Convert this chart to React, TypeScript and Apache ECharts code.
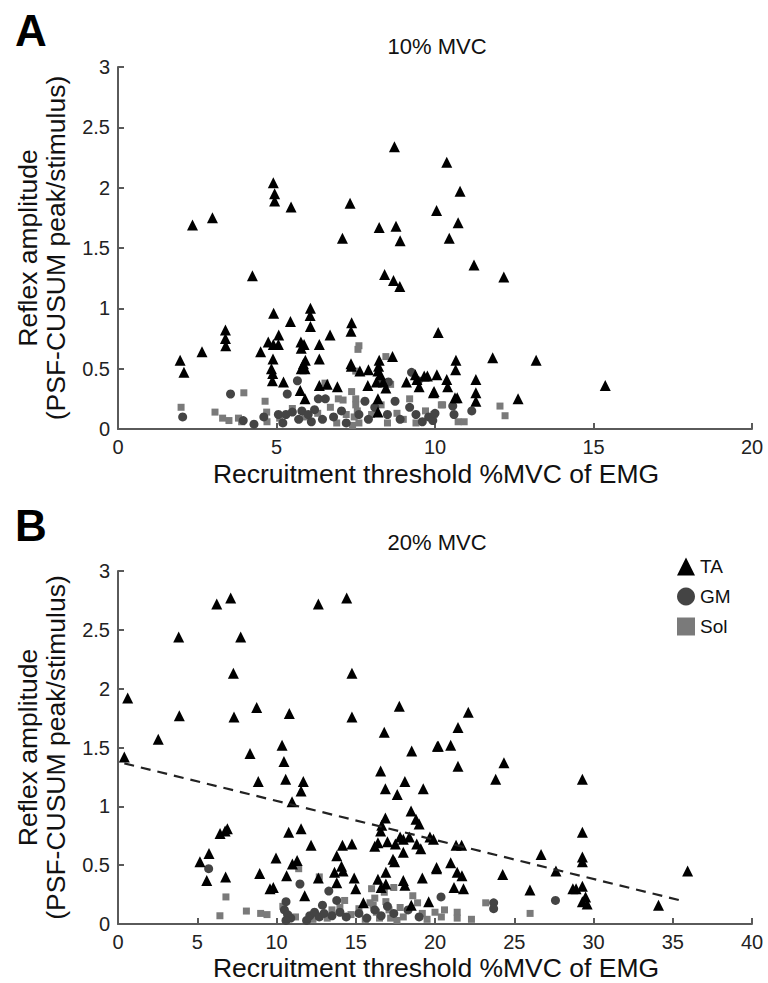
import React, { useEffect, useRef } from "react";
import * as echarts from "echarts";

// ---- Panel A (10% MVC) ----
const taA: number[][] = [
  [1.96,0.57],[2.08,0.47],[2.35,1.69],[2.65,0.64],[2.98,1.75],[3.39,0.82],[3.39,0.75],[3.4,0.69],
  [4.24,1.27],[4.5,0.64],[4.9,2.04],[4.94,1.95],[4.94,1.89],[5.46,1.84],[4.91,0.96],[4.74,0.72],
  [4.9,0.70],[5.06,0.70],[5.07,0.78],[4.89,0.58],[4.84,0.50],[4.88,0.46],[4.87,0.40],[5.22,0.39],
  [5.44,0.89],[6.07,1.00],[6.06,0.94],[6.07,0.85],[5.77,0.72],[5.87,0.70],[5.78,0.67],[5.91,0.57],
  [5.85,0.54],[5.78,0.50],[6.35,0.70],[6.35,0.58],[6.69,0.78],[5.75,0.32],[5.9,0.25],[6.35,0.36],
  [6.6,0.37],[6.92,0.35],[7.08,1.58],[7.32,1.87],[7.37,0.88],[7.35,0.81],[7.35,0.54],[7.36,0.52],
  [7.63,0.48],[7.9,0.49],[8.24,1.67],[8.77,1.68],[8.9,1.56],[8.72,2.34],[8.41,1.28],[8.69,1.23],
  [8.89,1.18],[8.24,0.57],[8.66,0.60],[8.22,0.52],[8.2,0.48],[8.28,0.45],[8.15,0.39],[8.37,0.39],
  [8.45,0.34],[7.88,0.36],[8.2,0.25],[8.2,0.14],[9.1,0.39],[9.38,0.45],[9.5,0.35],[9.66,0.44],
  [9.95,0.30],[10.06,0.45],[10.05,1.81],[10.1,0.80],[10.37,2.21],[10.79,1.97],[10.73,1.71],
  [10.45,1.58],[11.23,1.36],[12.17,1.26],[10.66,0.57],[10.65,0.49],[11.82,0.59],[13.19,0.57],
  [10.37,0.41],[10.4,0.35],[10.7,0.26],[11.29,0.41],[11.29,0.30],[11.29,0.23],[12.62,0.25],
  [15.37,0.36],[9.43,0.41],[9.76,0.44],[10.63,0.26],[9.97,0.31],[5.9,0.5]
];
const gmA: number[][] = [
  [2.04,0.10],[3.55,0.29],[3.95,0.07],[4.29,0.04],[5.66,0.40],[5.34,0.29],[5.06,0.12],[5.3,0.12],
  [5.5,0.14],[5.8,0.15],[6.0,0.12],[6.2,0.16],[6.32,0.25],[6.54,0.25],[6.8,0.10],[6.45,0.08],
  [6.1,0.06],[5.7,0.08],[7.79,0.23],[7.6,0.12],[7.9,0.08],[8.32,0.39],[8.53,0.39],[8.74,0.23],
  [8.5,0.12],[8.9,0.08],[9.26,0.47],[9.47,0.40],[9.2,0.18],[9.4,0.12],[9.8,0.10],[9.6,0.06],
  [10.56,0.19],[10.6,0.12],[11.16,0.15],[9.93,0.07],[10.0,0.13],[4.6,0.10],[5.2,0.05],[7.2,0.05],
  [7.05,0.15],[8.1,0.18]
];
const solA: number[][] = [
  [1.99,0.18],[3.06,0.14],[3.3,0.09],[3.5,0.07],[3.8,0.09],[3.9,0.06],[3.97,0.30],[4.64,0.23],
  [4.69,0.14],[4.7,0.06],[5.1,0.09],[5.5,0.17],[5.9,0.10],[6.53,0.38],[6.95,0.25],[7.37,0.31],
  [7.5,0.25],[7.5,0.20],[7.55,0.15],[7.45,0.10],[7.6,0.05],[7.4,0.03],[7.6,0.69],[7.57,0.66],
  [8.45,0.60],[7.5,0.48],[7.1,0.24],[7.2,0.12],[6.7,0.18],[6.3,0.13],[6.9,0.05],[8.6,0.37],
  [8.8,0.13],[8.5,0.05],[9.2,0.25],[9.0,0.08],[9.4,0.05],[9.7,0.15],[10.24,0.20],[9.97,0.12],
  [10.73,0.06],[10.92,0.06],[12.05,0.19],[12.21,0.11],[10.2,0.2],[8.0,0.12],[8.3,0.2]
];

// ---- Panel B (20% MVC) ----
const taB: number[][] = [
  [0.61,1.92],[0.4,1.42],[2.54,1.57],[3.83,2.44],[3.87,1.77],[6.23,2.72],[7.11,2.77],[7.28,2.13],
  [7.74,2.44],[7.32,1.76],[8.75,1.84],[8.33,1.45],[8.85,1.21],[10.81,1.79],[10.35,1.52],[10.47,1.38],
  [10.58,1.23],[11.69,1.21],[11.55,1.13],[10.98,1.04],[12.64,2.72],[14.43,2.77],[14.76,2.13],
  [14.76,1.76],[6.44,0.77],[6.76,0.79],[6.9,0.81],[5.17,0.53],[5.74,0.60],[5.6,0.37],[6.79,0.40],
  [8.94,0.43],[9.59,0.30],[9.8,0.31],[9.97,0.56],[10.77,0.78],[11.55,0.81],[11.0,0.51],[11.3,0.54],
  [10.64,0.41],[11.78,0.24],[12.18,0.67],[12.64,0.39],[13.8,0.58],[14.16,0.67],[14.76,0.68],
  [14.1,0.49],[14.2,0.45],[13.66,0.44],[13.8,0.35],[14.9,0.39],[15.0,0.30],[15.48,0.18],[16.57,1.30],
  [16.8,1.63],[16.87,1.15],[17.75,1.85],[18.1,1.21],[17.62,1.10],[18.53,1.47],[19.26,1.15],
  [20.15,1.51],[16.87,0.90],[16.64,0.84],[16.57,0.79],[18.49,0.96],[18.8,0.89],[19.0,0.85],
  [17.8,0.74],[18.0,0.72],[18.38,0.74],[19.68,0.74],[16.4,0.69],[16.2,0.66],[17.0,0.70],[17.5,0.68],
  [18.0,0.61],[18.85,0.68],[19.1,0.64],[17.35,0.55],[17.45,0.53],[16.9,0.44],[16.4,0.38],[16.9,0.34],
  [16.6,0.31],[18.0,0.37],[18.1,0.33],[19.2,0.39],[18.5,0.16],[19.6,0.19],[20.1,0.47],
  [22.1,1.80],[21.45,1.67],[20.21,1.51],[20.99,1.52],[21.45,1.34],[24.35,1.37],[23.83,1.23],
  [29.3,1.23],[29.3,0.78],[29.3,0.57],[29.3,0.53],[19.9,0.72],[21.33,0.67],[21.68,0.67],[26.69,0.59],
  [27.63,0.45],[35.94,0.45],[20.1,0.48],[20.99,0.52],[21.4,0.44],[21.7,0.41],[21.2,0.31],[21.8,0.30],
  [24.27,0.42],[25.99,0.29],[28.7,0.30],[28.9,0.30],[29.3,0.32],[29.5,0.23],[29.3,0.19],[29.6,0.17],
  [34.1,0.16]
];
const gmB: number[][] = [
  [5.72,0.47],[11.48,0.34],[10.6,0.19],[10.5,0.12],[10.7,0.08],[10.9,0.05],[10.6,0.03],[12.1,0.07],
  [12.4,0.10],[12.7,0.06],[13.0,0.09],[13.3,0.28],[13.8,0.20],[13.5,0.07],[14.0,0.10],[14.4,0.06],
  [11.9,0.03],[16.2,0.12],[16.6,0.07],[17.0,0.15],[17.4,0.09],[15.7,0.05],[18.3,0.12],[19.0,0.06],
  [20.38,0.23],[23.7,0.18],[23.7,0.13],[27.6,0.20],[15.2,0.09],[12.9,0.16]
];
const solB: number[][] = [
  [6.81,0.23],[6.43,0.07],[8.1,0.11],[9.0,0.09],[9.4,0.08],[11.4,0.47],[12.7,0.40],[10.4,0.15],
  [11.2,0.06],[12.3,0.04],[13.2,0.05],[14.0,0.14],[14.7,0.08],[15.2,0.13],[15.6,0.04],[16.0,0.30],
  [16.2,0.22],[16.1,0.16],[16.3,0.10],[16.5,0.05],[16.8,0.27],[16.9,0.19],[17.1,0.12],[17.2,0.05],
  [17.4,0.31],[17.8,0.14],[17.6,0.03],[18.0,0.06],[18.6,0.24],[18.9,0.18],[19.2,0.09],[19.5,0.04],
  [20.0,0.10],[20.4,0.06],[20.6,0.12],[21.4,0.10],[21.4,0.05],[22.3,0.04],[23.2,0.18],[26.0,0.09],
  [15.9,0.18],[14.3,0.2],[13.5,0.12]
];
const fitB: number[][] = [[0.4, 1.365], [35.5, 0.2]];

const titles = ["10% MVC", "20% MVC"];
const panelLetters = ["A", "B"];
const xTitle = "Recruitment threshold %MVC of EMG";
const yTitle1 = "Reflex amplitude";
const yTitle2 = "(PSF-CUSUM peak/stimulus)";

const FONT = "Liberation Sans, Arial, Helvetica, sans-serif";
const AXIS = "#5a5a5a";
const C_TA = "#000000";
const C_GM = "#444444";
const C_SOL = "#7a7a7a";

export default function App() {
  const ref = useRef<HTMLDivElement>(null);
  useEffect(() => {
    document.body.style.margin = "0";
    const chart = echarts.init(ref.current!, undefined, { renderer: "svg" });
    const grids = [
      { left: 118, top: 67, width: 634, height: 362 },
      { left: 118, top: 571, width: 634, height: 353 },
    ];
    const mkX = (i: number, max: number) => ({
      type: "value", gridIndex: i, min: 0, max, interval: 5,
      axisLine: { show: true, lineStyle: { color: AXIS, width: 2 } },
      axisTick: { show: true, inside: true, length: 6, lineStyle: { color: AXIS, width: 2 } },
      axisLabel: { color: "#222", fontSize: 20, fontFamily: FONT, margin: 8 },
      splitLine: { show: false },
    });
    const mkY = (i: number) => ({
      type: "value", gridIndex: i, min: 0, max: 3, interval: 0.5,
      axisLine: { show: true, lineStyle: { color: AXIS, width: 2 } },
      axisTick: { show: true, inside: true, length: 6, lineStyle: { color: AXIS, width: 2 } },
      axisLabel: { color: "#222", fontSize: 20, fontFamily: FONT, margin: 8 },
      splitLine: { show: false },
    });
    const sc = (name: string, data: number[][], i: number, symbol: string, size: number, color: string) => ({
      type: "scatter", name, data, xAxisIndex: i, yAxisIndex: i, symbol, symbolSize: size,
      itemStyle: { color, opacity: 1 }, z: name === "TA" ? 4 : name === "GM" ? 3 : 2,
    });
    const graphics: any[] = [];
    [0, 1].forEach((i) => {
      const g = grids[i];
      const cy = g.top + g.height / 2;
      graphics.push(
        { type: "text", left: 15, top: i === 0 ? 8 : 503, style: { text: panelLetters[i], font: `bold 44px ${FONT}`, fill: "#000" } },
        { type: "text", x: 437, y: i === 0 ? 46 : 542, style: { text: titles[i], font: `22px ${FONT}`, fill: "#111", align: "center", verticalAlign: "middle" } },
        { type: "text", x: 436, y: i === 0 ? 474 : 968, style: { text: xTitle, font: `26.5px ${FONT}`, fill: "#111", align: "center", verticalAlign: "middle" } },
        { type: "text", x: 28, y: cy, rotation: Math.PI / 2, style: { text: yTitle1, font: `26.5px ${FONT}`, fill: "#111", align: "center", verticalAlign: "middle" } },
        { type: "text", x: 56, y: cy, rotation: Math.PI / 2, style: { text: yTitle2, font: `26.5px ${FONT}`, fill: "#111", align: "center", verticalAlign: "middle" } },
      );
    });
    chart.setOption({
      animation: false,
      backgroundColor: "#fff",
      grid: grids,
      xAxis: [mkX(0, 20), mkX(1, 40)],
      yAxis: [mkY(0), mkY(1)],
      legend: {
        left: 672, top: 552, orient: "vertical", itemGap: 11, itemWidth: 18, itemHeight: 18,
        textStyle: { fontSize: 19, fontFamily: FONT, color: "#111" },
        data: [
          { name: "TA", icon: "triangle", itemStyle: { color: C_TA } },
          { name: "GM", icon: "circle", itemStyle: { color: C_GM } },
          { name: "Sol", icon: "rect", itemStyle: { color: C_SOL } },
        ],
        selectedMode: false,
      },
      graphic: graphics,
      series: [
        sc("Sol", solA, 0, "rect", 7, C_SOL),
        sc("GM", gmA, 0, "circle", 9, C_GM),
        sc("TA", taA, 0, "triangle", 11, C_TA),
        sc("Sol", solB, 1, "rect", 7, C_SOL),
        sc("GM", gmB, 1, "circle", 9, C_GM),
        sc("TA", taB, 1, "triangle", 11, C_TA),
        {
          type: "line", name: "fit", data: fitB, xAxisIndex: 1, yAxisIndex: 1, symbol: "none",
          lineStyle: { color: "#222", width: 2.2, type: [10, 7] }, z: 5,
        },
      ],
    });
    return () => chart.dispose();
  }, []);
  return <div ref={ref} style={{ width: 768, height: 983 }} />;
}
